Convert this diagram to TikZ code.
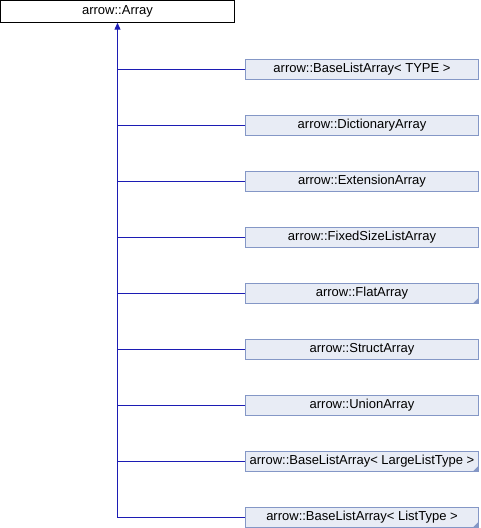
\documentclass[tikz,border=0pt]{standalone}
\usepackage{fontspec}
\setmainfont{Liberation Sans}
\usetikzlibrary{arrows.meta}
\definecolor{boxfill}{HTML}{E8ECF5}
\definecolor{boxborder}{HTML}{8497C6}
\definecolor{linkblue}{HTML}{1C1CB4}
\begin{document}
\begin{tikzpicture}[x=1pt, y=-1pt,
		base/.style={draw=black, fill=white, minimum width=234pt, minimum height=22pt, inner sep=0pt, font=\fontsize{13}{15}\selectfont},
		derived/.style={draw=boxborder, fill=boxfill, minimum width=233pt, minimum height=20pt, inner sep=0pt, font=\fontsize{13}{15}\selectfont},
		link/.style={draw=linkblue, line width=1.1pt}]
			\useasboundingbox (0,0) rectangle (480,528);
			
			\node[base] (array) at (117.5, 11.5) {arrow::Array};
			
			\node[derived] (baselist) at (362, 69.5) {arrow::BaseListArray< TYPE >};
			\node[derived] (dictionary) at (362, 125.5) {arrow::DictionaryArray};
			\node[derived] (extension) at (362, 181.5) {arrow::ExtensionArray};
			\node[derived] (fixedsize) at (362, 237.5) {arrow::FixedSizeListArray};
			\node[derived] (flat) at (362, 293.5) {arrow::FlatArray};
			\node[derived] (struct) at (362, 349.5) {arrow::StructArray};
			\node[derived] (union) at (362, 405.5) {arrow::UnionArray};
			\node[derived] (largelist) at (362, 461.5) {arrow::BaseListArray< LargeListType >};
			\node[derived] (listtype) at (362, 517.5) {arrow::BaseListArray< ListType >};
			
			\coordinate (trunk) at (array.south |- listtype.west);
			\draw[link, -{Triangle[width=6pt, length=7pt, fill=linkblue]}] (trunk) -- (array.south);
			\foreach \n in {baselist, dictionary, extension, fixedsize, flat, struct, union, largelist, listtype}
				\draw[link] (array.south |- \n.west) -- (\n.west);
			
			% classes with more children
			\foreach \n in {flat, largelist, listtype}
				\fill[boxborder] ([xshift=-6pt]\n.south east) -- (\n.south east) -- ([yshift=6pt]\n.south east) -- cycle;
		\end{tikzpicture}
\end{document}
